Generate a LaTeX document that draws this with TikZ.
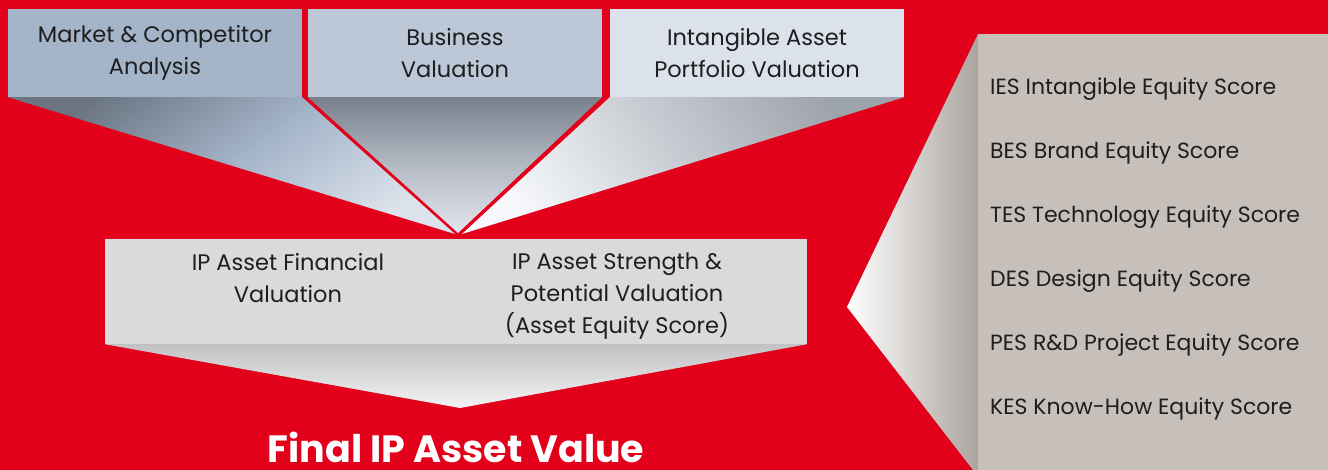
\documentclass[tikz,border=0pt]{standalone}
\usepackage{fontspec}
\setmainfont{Poppins}
\usepackage{tkz-euclide}
\usetikzlibrary{calc}

\definecolor{ipred}{HTML}{E2001A}
\definecolor{boxA}{HTML}{A4B4C9}
\definecolor{boxB}{HTML}{BCC8D8}
\definecolor{boxC}{HTML}{DCE2EC}
\definecolor{midbox}{HTML}{D9DADC}
\definecolor{panel}{HTML}{C7BFBA}
\definecolor{panelEdge}{HTML}{ABA49F}
\definecolor{ink}{HTML}{1E1E1E}
\definecolor{fAtop}{HTML}{6C7683}
\definecolor{fAbot}{HTML}{DDE3EC}
\definecolor{fBtop}{HTML}{7A808C}
\definecolor{fBmid}{HTML}{B4BAC4}
\definecolor{fBbot}{HTML}{E2E6EE}
\definecolor{fCtop}{HTML}{9DA3AB}
\definecolor{fCmid}{HTML}{C8CCD2}
\definecolor{fCbot}{HTML}{F6F8FB}
\definecolor{fMtop}{HTML}{C2C2C4}
\definecolor{fMbot}{HTML}{F3F3F3}

\tikzset{
  topbox/.style={rectangle,inner sep=0pt,minimum width=294pt,minimum height=88pt,
    align=center,text=ink,font=\fontsize{22.5}{32}\selectfont},
  midtext/.style={anchor=north,align=center,inner sep=0pt,text=ink,
    font=\fontsize{22.5}{32}\selectfont},
  score/.style={anchor=west,inner sep=0pt,text=ink,font=\fontsize{22}{24}\selectfont}
}

\begin{document}
\begin{tikzpicture}[x=1pt,y=-1pt]
\fill[ipred] (0,0) rectangle (1328,470);
\useasboundingbox (0,0) rectangle (1328,470);

% meeting points of the funnels
\tkzDefPoints{455/234/P1,458/233/P2,462/234/P3,460/408/Q,847/307/R,973/470/S}

% three sources
\node[topbox,fill=boxA] (mca) at (155,53) {Market \& Competitor\\Analysis};
\node[topbox,fill=boxB] (bus) at (455,53) {Business\\Valuation};
\node[topbox,fill=boxC] (iap) at (757,53) {Intangible Asset\\Portfolio Valuation};

\shade[top color=fAtop,bottom color=fAbot,middle color=boxA,shading angle=35]
  (mca.south west) -- (mca.south east) -- (P1) -- cycle;
\shade[top color=fBtop,bottom color=fBbot,middle color=fBmid]
  (bus.south west) -- (bus.south east) -- (P2) -- cycle;
\shade[top color=fCtop,bottom color=fCbot,middle color=fCmid,shading angle=-55]
  (iap.south west) -- (iap.south east) -- (P3) -- cycle;

% combined valuation
\node[rectangle,fill=midbox,minimum width=702pt,minimum height=105pt,inner sep=0pt] (ipa) at (456,291.5) {};
\node[midtext] (fin) at (288,253) {IP Asset Financial\\Valuation};
\node[midtext] (str) at (617,253) {IP Asset Strength \&\\Potential Valuation\\(Asset Equity Score)};

\shade[top color=fMtop,bottom color=fMbot]
  (ipa.south west) -- (ipa.south east) -- (Q) -- cycle;

\node[text=white,inner sep=0pt,anchor=base,text depth=0pt,font=\fontsize{38}{40}\selectfont\bfseries] (final) at (456,462) {Final IP Asset Value};

% equity scores
\node[rectangle,fill=panel,minimum width=350pt,minimum height=436pt,inner sep=0pt,anchor=north west] (scores) at (978,34) {};
\shade[left color=white,right color=panelEdge]
  (R) -- (scores.north west) -- (scores.south west) -- (S) -- cycle;

\foreach \s [count=\i] in {IES Intangible Equity Score,BES Brand Equity Score,
  TES Technology Equity Score,DES Design Equity Score,
  PES R\&D Project Equity Score,KES Know-How Equity Score}
  \node[score] (s\i) at (990,25+64*\i) {\s};

\end{tikzpicture}
\end{document}
